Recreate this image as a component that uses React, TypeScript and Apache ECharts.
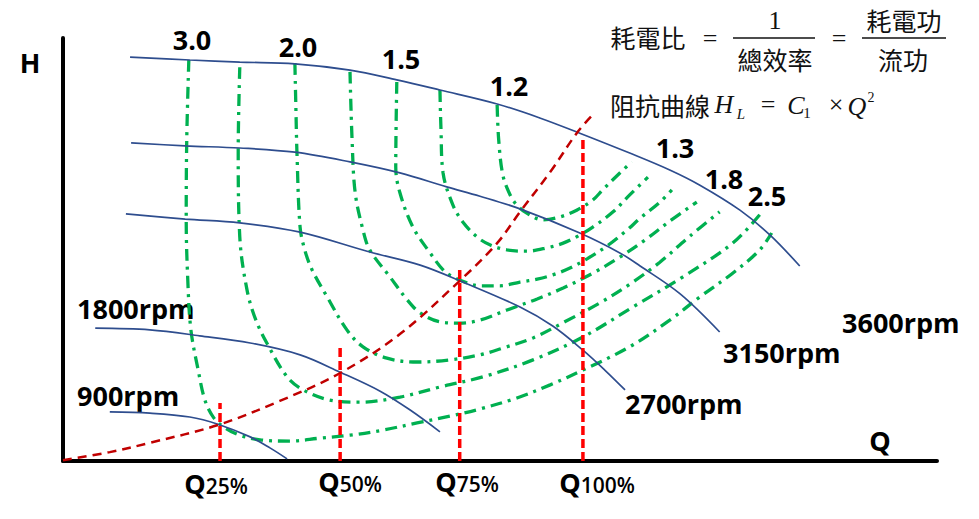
import React, { useEffect, useRef } from "react";
import * as echarts from "echarts";

// Pump head curves (Q in % of Q100, H in % of axis height)
const rpm3600 = [[12.9,95.5],[24.4,94.8],[34.0,94.3],[44.6,93.9],[55.2,92.4],[64.2,90.1],[72.5,87.7],[83.5,84.4],[91.7,81.1],[99.4,77.5],[109.0,72.8],[116.7,68.8],[122.5,65.2],[130.2,59.3],[136.0,53.4],[141.7,46.1]];
const rpm3150 = [[13.1,75.2],[23.5,74.5],[34.0,74.0],[44.6,73.0],[55.2,70.7],[64.8,68.1],[73.8,64.8],[80.2,62.6],[87.9,59.6],[99.4,53.9],[107.1,49.2],[111.0,46.1],[118.7,39.5],[126.3,30.5]];
const rpm2700 = [[12.1,58.4],[23.5,57.2],[34.0,56.3],[45.6,54.1],[59.0,49.4],[68.7,46.3],[76.9,42.3],[87.9,36.4],[94.2,31.9],[100,26.2],[104.2,21.5],[108.1,16.8]];
const rpm1800 = [[6.2,31.4],[16.7,31.0],[26.3,29.6],[36.0,27.9],[45.6,25.1],[53.3,21.0],[61.0,16.5],[66.7,12.1],[72.5,6.9]];
const rpm900 = [[9.0,11.6],[16.7,11.3],[24.4,10.4],[29.8,8.7],[36.0,5.7],[39.8,3.1],[43.1,0.5]];

// System resistance curve H_L = C1 x Q^2
const systemCurve = [[0,0.2],[9.0,2.1],[16.7,4.3],[29.8,8.5],[41.7,14.2],[53.3,20.8],[64.8,30.0],[76.3,42.6],[83.5,51.5],[87.9,58.9],[93.7,68.3],[98.8,77.5],[101.7,81.6]];

// Operating points
const qPoints = [30.2, 53.3, 76.3, 100];
const qTops = [13.7, 26.7, 45.6, 76.8];
const qLabels = ["25%", "50%", "75%", "100%"];

// Power-ratio (iso-efficiency) contours
const eff1 = [[24.2,94.8],[23.8,75.9],[23.7,57.0],[24.0,42.8],[24.6,31.0],[26.0,21.5],[27.3,14.4],[29.0,10.2],[31.2,7.8],[34.0,6.1],[37.9,5.0],[43.7,4.7],[49.4,5.4],[55.2,6.1],[61.5,7.3],[68.1,9.0],[74.4,10.6],[80.2,12.3],[87.3,14.9],[93.7,18.0],[100,21.5],[109.0,27.0],[116.7,33.3],[122.5,38.8],[128.8,44.4],[134.0,49.9],[136.3,53.9]];
const eff2 = [[34.0,93.1],[33.7,73.5],[34.0,53.0],[35.4,40.4],[37.1,33.3],[39.2,27.9],[43.1,19.9],[46.2,16.8],[51.3,14.4],[57.1,13.9],[64.8,15.1],[72.5,17.5],[80.8,19.9],[90.4,23.9],[100,29.3],[109.6,36.4],[119.2,43.5],[128.8,51.5],[134.0,58.2]];
const eff3 = [[44.6,94.1],[44.8,83.0],[45.0,72.8],[45.6,55.3],[46.5,49.9],[47.9,45.2],[50.8,38.8],[54.6,31.0],[57.7,27.0],[62.3,24.3],[68.1,23.4],[74.4,23.9],[80.2,25.1],[84.6,26.7],[90.4,29.1],[96.5,32.9],[103.3,37.4],[109.0,41.8],[114.8,47.0],[120.6,53.2],[126.3,58.9]];
const eff4 = [[55.2,92.0],[55.6,75.9],[56.2,63.4],[57.7,54.6],[59.0,49.9],[62.9,43.5],[66.2,38.1],[68.7,35.0],[72.5,32.9],[76.3,32.6],[80.2,33.3],[85.4,35.7],[91.2,38.3],[96.2,40.9],[101.9,44.4],[107.1,48.2],[111.9,52.2],[116.7,56.7],[121.9,61.2]];
const eff5 = [[64.2,89.6],[64.0,69.5],[64.8,63.4],[67.3,55.3],[70.6,49.2],[73.1,45.2],[75.0,43.5],[77.7,42.1],[80.2,41.4],[84.0,41.4],[87.9,42.3],[91.2,43.0],[94.2,44.0],[97.5,45.6],[100.8,47.8],[104.6,50.8],[108.5,54.6],[111.0,57.4],[114.8,61.2],[117.1,64.1]];
const eff6 = [[72.5,87.7],[72.7,78.3],[73.1,68.1],[75.0,60.5],[76.9,56.5],[79.6,53.0],[82.1,51.1],[85.4,49.9],[89.2,49.6],[93.1,50.4],[96.2,51.5],[98.8,53.0],[101.9,55.3],[105.8,58.9],[109.0,62.9],[112.5,67.1]];
const eff7 = [[83.5,84.2],[83.8,75.9],[84.6,67.6],[86.0,62.9],[87.3,60.5],[89.2,58.6],[92.3,57.0],[95.6,57.7],[98.8,59.3],[101.9,61.7],[103.8,64.1],[107.1,68.1],[109.4,70.7]];

const effLeftLabels = ["3.0", "2.0", "1.5", "1.2"];
const effRightLabels = ["1.3", "1.8", "2.5"];
const rpmLabels = ["900rpm", "1800rpm", "2700rpm", "3150rpm", "3600rpm"];

const BLUE = "#2E4D8E";
const GREEN = "#00B050";
const DARKRED = "#C00000";
const RED = "#FF0000";

const LABEL_FONT = "'Open Sans', 'Liberation Sans', sans-serif";
const CJK_FONT = "'Noto Sans CJK TC', 'Noto Sans CJK SC', sans-serif";
const SERIF_FONT = "'Liberation Serif', 'DejaVu Serif', serif";

function txt(text: string, x: number, y: number, extra: any = {}) {
  return {
    type: "text",
    x,
    y,
    silent: true,
    style: {
      text,
      fill: "#000",
      align: "center",
      verticalAlign: "middle",
      fontFamily: LABEL_FONT,
      fontWeight: "bold",
      fontSize: 27,
      ...extra,
    },
  };
}

export default function App() {
  const ref = useRef<HTMLDivElement>(null);

  useEffect(() => {
    if (!ref.current) return;
    const chart = echarts.init(ref.current, null, { renderer: "svg" });

    const lineSeries = (data: number[][], color: string, width: number, type: any, z: number) => ({
      type: "line",
      data,
      smooth: 0.35,
      showSymbol: false,
      symbol: "none",
      silent: true,
      z,
      lineStyle: { color, width, type, cap: "butt" },
    });

    const effCurves = [eff1, eff2, eff3, eff4, eff5, eff6, eff7];
    const rpmCurves = [rpm3600, rpm3150, rpm2700, rpm1800, rpm900];

    const series: any[] = [];
    effCurves.forEach((c) => series.push(lineSeries(c, GREEN, 3.3, [12, 6, 3, 6], 2)));
    rpmCurves.forEach((c) => series.push(lineSeries(c, BLUE, 1.7, "solid", 3)));
    series.push(lineSeries(systemCurve, DARKRED, 2.5, [9, 6], 4));
    qPoints.forEach((q, i) =>
      series.push({
        type: "line",
        data: [[q, 0], [q, qTops[i]]],
        showSymbol: false,
        symbol: "none",
        silent: true,
        z: 5,
        lineStyle: { color: RED, width: 3.5, type: [9, 4] },
      })
    );

    const qLabelPos = [[216, 483], [350, 481], [467, 481], [597, 482]];
    const effLeftPos = [[192, 39], [298, 46], [401, 58], [509, 85]];
    const effRightPos = [[675, 147], [724, 178], [767, 195]];
    const rpmPos = [[77, 395], [77, 308], [625, 403], [723, 352], [842, 322]];

    const graphics: any[] = [];
    graphics.push(txt("H", 30, 62));
    graphics.push(txt("Q", 880, 440));
    effLeftLabels.forEach((t, i) => graphics.push(txt(t, effLeftPos[i][0], effLeftPos[i][1])));
    effRightLabels.forEach((t, i) => graphics.push(txt(t, effRightPos[i][0], effRightPos[i][1])));
    rpmLabels.forEach((t, i) => graphics.push(txt(t, rpmPos[i][0], rpmPos[i][1], { align: "left" })));
    qLabels.forEach((t, i) =>
      graphics.push({
        type: "text",
        x: qLabelPos[i][0],
        y: qLabelPos[i][1],
        silent: true,
        style: {
          text: "{q|Q}{s|" + t + "}",
          align: "center",
          verticalAlign: "middle",
          rich: {
            q: { fontFamily: LABEL_FONT, fontWeight: "bold", fontSize: 27, fill: "#000", verticalAlign: "bottom" },
            s: { fontFamily: LABEL_FONT, fontWeight: 600, fontSize: 21, fill: "#000", verticalAlign: "bottom" },
          },
        },
      })
    );

    // Formula block
    const cjk = { fontFamily: CJK_FONT, fontWeight: "normal", fontSize: 25, fill: "#111" };
    const serif = { fontFamily: SERIF_FONT, fontWeight: "normal", fontSize: 26, fill: "#111" };
    const serifIt = { ...serif, fontStyle: "italic" };
    graphics.push(txt("耗電比", 648, 37, cjk));
    graphics.push(txt("=", 710, 38, serif));
    graphics.push(txt("1", 775, 20, serif));
    graphics.push({ type: "line", silent: true, shape: { x1: 733, y1: 38, x2: 815, y2: 38 }, style: { stroke: "#111", lineWidth: 1.5 } });
    graphics.push(txt("總效率", 775, 59, cjk));
    graphics.push(txt("=", 839, 38, serif));
    graphics.push(txt("耗電功", 904, 20, cjk));
    graphics.push({ type: "line", silent: true, shape: { x1: 862, y1: 38, x2: 946, y2: 38 }, style: { stroke: "#111", lineWidth: 1.5 } });
    graphics.push(txt("流功", 903, 59, cjk));
    graphics.push(txt("阻抗曲線", 660, 105, cjk));
    graphics.push(txt("H", 724, 104, serifIt));
    graphics.push(txt("L", 741, 114, { ...serifIt, fontSize: 15 }));
    graphics.push(txt("=", 768, 104, serif));
    graphics.push(txt("C", 796, 105, serifIt));
    graphics.push(txt("1", 807, 113, { ...serif, fontSize: 15 }));
    graphics.push(txt("×", 836, 104, serif));
    graphics.push(txt("Q", 857, 106, serifIt));
    graphics.push(txt("2", 871, 97, { ...serif, fontSize: 14 }));

    chart.setOption({
      animation: false,
      backgroundColor: "#fff",
      grid: { left: 63, top: 38, width: 874, height: 423, containLabel: false },
      xAxis: {
        type: "value",
        min: 0,
        max: 168.1,
        axisLine: { show: true, onZero: false, lineStyle: { color: "#000", width: 4 } },
        axisTick: { show: false },
        axisLabel: { show: false },
        splitLine: { show: false },
      },
      yAxis: {
        type: "value",
        min: 0,
        max: 100,
        axisLine: { show: true, onZero: false, lineStyle: { color: "#000", width: 4 } },
        axisTick: { show: false },
        axisLabel: { show: false },
        splitLine: { show: false },
      },
      series,
      graphic: graphics,
    });

    return () => chart.dispose();
  }, []);

  return (
    <div
      ref={ref}
      style={{ position: "fixed", left: 0, top: 0, width: 979, height: 519, background: "#fff" }}
    />
  );
}
